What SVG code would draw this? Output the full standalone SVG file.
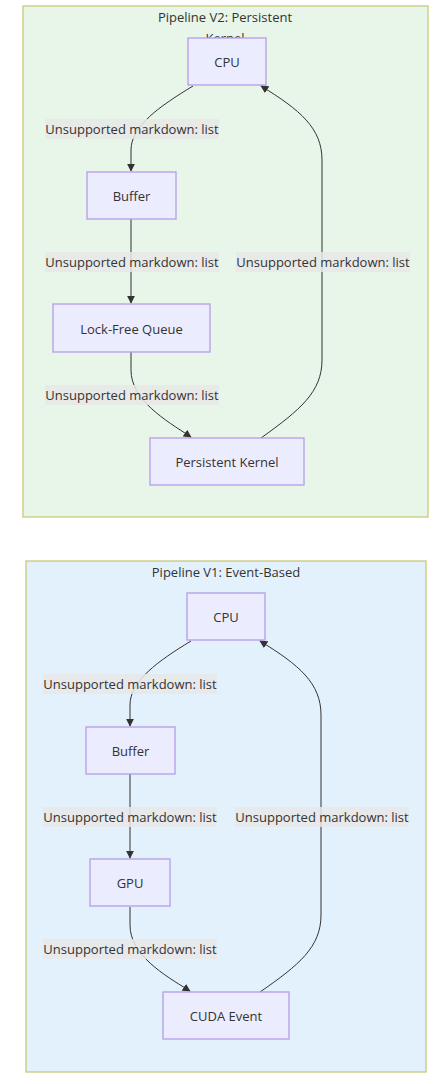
<svg xmlns="http://www.w3.org/2000/svg" width="447" height="1084" viewBox="0 0 447 1084">
<style>
.bg{fill:#ffffff}
.c2{fill:#e8f5e9;stroke:#c9c97a;stroke-width:1.3}
.c1{fill:#e3f1fc;stroke:#c9c97a;stroke-width:1.3}
.node rect{fill:#ececff;stroke:#b59ce8;stroke-width:1.3}
text{font-family:"Open Sans","Noto Sans","Liberation Sans",sans-serif;font-size:13px;fill:#333;text-anchor:middle;dominant-baseline:central}
.lbl rect{fill:#e8e8e8;opacity:0.85}
.edge{fill:none;stroke:#333;stroke-width:1}
</style>
<defs>
<marker id="ah" viewBox="0 0 10 10" refX="9" refY="5" markerWidth="8" markerHeight="8" orient="auto" markerUnits="userSpaceOnUse">
<path d="M0,0 L10,5 L0,10 z" fill="#333"/>
</marker>
</defs>
<rect class="bg" x="0" y="0" width="447" height="1084"/>

<g id="cluster-v2">
<rect class="c2" x="23" y="6" width="405" height="511"/>
<text x="225" y="17">Pipeline V2: Persistent</text>
<text x="225" y="38">Kernel</text>
</g>
<g id="cluster-v1">
<rect class="c1" x="26" y="561" width="400" height="511"/>
<text x="226" y="572">Pipeline V1: Event-Based</text>
</g>

<g id="connectors">
<path class="edge" d="M193,86 C160,106 131,126 131,150 L131,171" marker-end="url(#ah)"/>
<path class="edge" d="M131,219 L131,303" marker-end="url(#ah)"/>
<path class="edge" d="M131,352 L131,370 C131,400 165,420 191,437" marker-end="url(#ah)"/>
<path class="edge" d="M261,438 C300,410 322,392 322,360 L322,160 C322,128 300,110 261,86" marker-end="url(#ah)"/>

<path class="edge" d="M191,641 C158,661 130,681 130,705 L130,726" marker-end="url(#ah)"/>
<path class="edge" d="M130,774 L130,858" marker-end="url(#ah)"/>
<path class="edge" d="M130,907 L130,925 C130,955 164,975 190,991" marker-end="url(#ah)"/>
<path class="edge" d="M260,992 C299,965 321,947 321,915 L321,715 C321,683 299,665 260,641" marker-end="url(#ah)"/>
</g>

<g id="edge-labels">
<g class="lbl"><rect x="45" y="119" width="174" height="20"/><text x="132" y="129">Unsupported markdown: list</text></g>
<g class="lbl"><rect x="45" y="252" width="174" height="20"/><text x="132" y="262">Unsupported markdown: list</text></g>
<g class="lbl"><rect x="236" y="252" width="174" height="20"/><text x="323" y="262">Unsupported markdown: list</text></g>
<g class="lbl"><rect x="45" y="385" width="174" height="20"/><text x="132" y="395">Unsupported markdown: list</text></g>

<g class="lbl"><rect x="43" y="674" width="174" height="20"/><text x="130" y="684">Unsupported markdown: list</text></g>
<g class="lbl"><rect x="43" y="807" width="174" height="20"/><text x="130" y="817">Unsupported markdown: list</text></g>
<g class="lbl"><rect x="235" y="807" width="174" height="20"/><text x="322" y="817">Unsupported markdown: list</text></g>
<g class="lbl"><rect x="43" y="939" width="174" height="20"/><text x="130" y="949">Unsupported markdown: list</text></g>
</g>

<g id="v2-cpu" class="node"><rect x="188" y="38" width="78" height="47"/><text x="227" y="62">CPU</text></g>
<g id="v2-buffer" class="node"><rect x="87" y="172" width="89" height="47"/><text x="131.5" y="196">Buffer</text></g>
<g id="v2-queue" class="node"><rect x="53" y="304" width="157" height="48"/><text x="131.5" y="329">Lock-Free Queue</text></g>
<g id="v2-kernel" class="node"><rect x="150" y="438" width="154" height="47"/><text x="227" y="462">Persistent Kernel</text></g>

<g id="v1-cpu" class="node"><rect x="187" y="593" width="78" height="47"/><text x="226" y="617">CPU</text></g>
<g id="v1-buffer" class="node"><rect x="86" y="727" width="89" height="47"/><text x="130.5" y="751">Buffer</text></g>
<g id="v1-gpu" class="node"><rect x="90" y="859" width="80" height="47"/><text x="130" y="883">GPU</text></g>
<g id="v1-event" class="node"><rect x="163" y="992" width="126" height="47"/><text x="226" y="1016">CUDA Event</text></g>
</svg>
